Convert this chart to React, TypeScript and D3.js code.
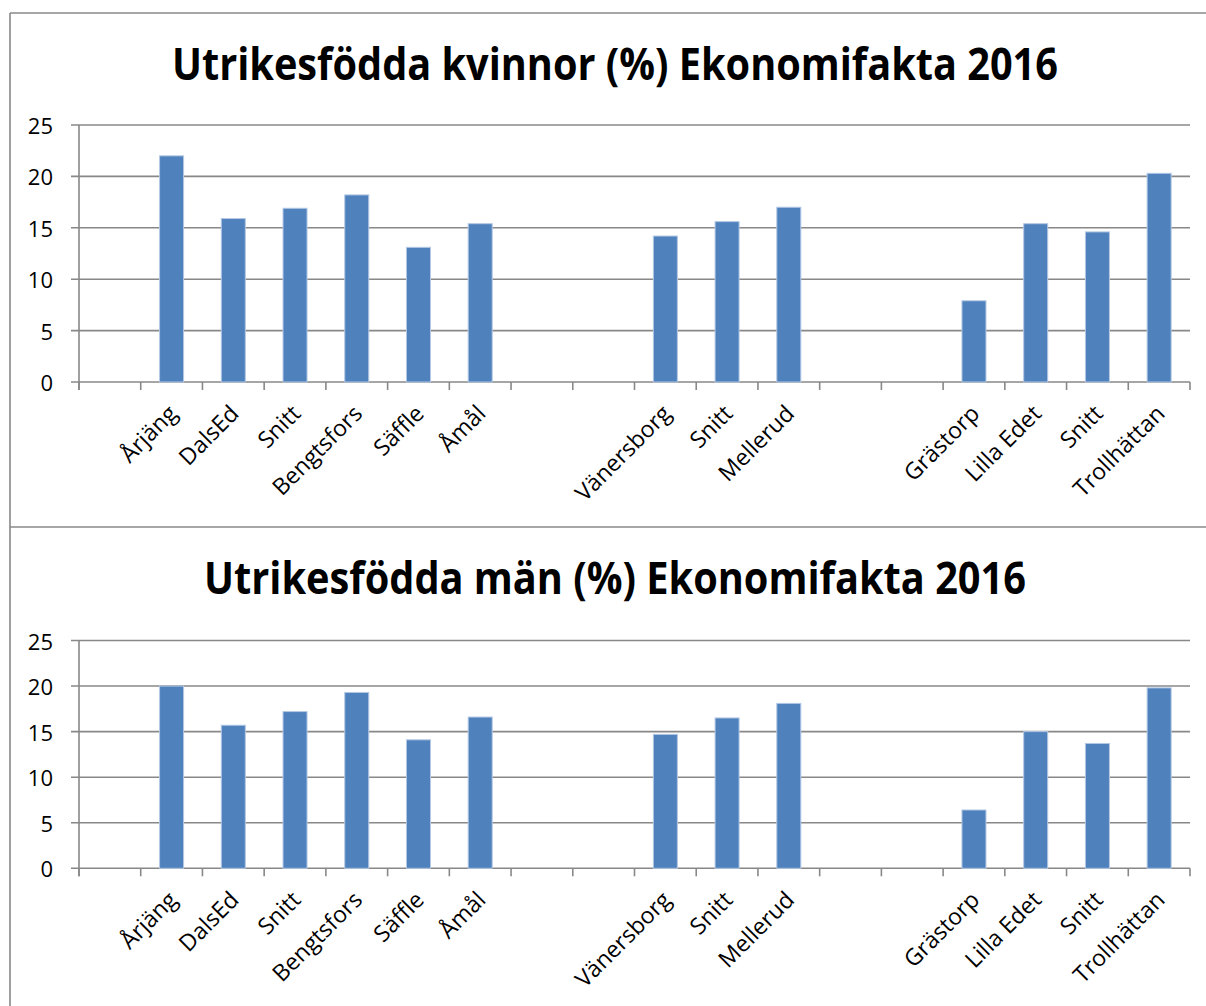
import React from "react";
import * as d3 from "d3";

const categories: string[] = ["", "Årjäng", "DalsEd", "Snitt", "Bengtsfors", "Säffle", "Åmål", "", "", "Vänersborg", "Snitt", "Mellerud", "", "", "Grästorp", "Lilla Edet", "Snitt", "Trollhättan"];
const kvinnor: (number | null)[] = [null, 22.0, 15.9, 16.9, 18.2, 13.1, 15.4, null, null, 14.2, 15.6, 17.0, null, null, 7.9, 15.4, 14.6, 20.3];
const man: (number | null)[] = [null, 20.0, 15.7, 17.2, 19.3, 14.1, 16.6, null, null, 14.7, 16.5, 18.1, null, null, 6.4, 15.0, 13.7, 19.8];
const yTicks: number[] = [0, 5, 10, 15, 20, 25];
const titles: string[] = ["Utrikesfödda kvinnor (%) Ekonomifakta 2016", "Utrikesfödda män (%) Ekonomifakta 2016"];

const W = 1206;
const H = 1006;
const FONT = "'Open Sans', 'DejaVu Sans', sans-serif";
const GRID = "#888888";
const BAR = "#4F81BD";

type PanelProps = {
  values: (number | null)[];
  title: string;
  titleY: number;
  titleLen: number;
  top: number;
  bottom: number;
};

function Panel({ values, title, titleY, titleLen, top, bottom }: PanelProps) {
  const left = 79;
  const right = 1190;
  const x = d3.scaleBand<number>().domain(categories.map((_, i) => i)).range([left, right]).paddingInner(0.611).paddingOuter(0.3055);
  const y = d3.scaleLinear().domain([0, 25]).range([bottom, top]);
  const step = x.step();
  const tickXs = d3.range(categories.length + 1).map((i) => left + i * step);
  return (
    <g>
      <text x={615} y={titleY} textAnchor="middle" fontFamily={FONT} fontWeight="bold" fontSize={45} textLength={titleLen} lengthAdjust="spacingAndGlyphs" fill="#000">{title}</text>
      {yTicks.map((t) => (
        <g key={t}>
          <line x1={left - 8} x2={right} y1={y(t)} y2={y(t)} stroke={GRID} strokeWidth={1.6} />
          <text x={53} y={y(t)} textAnchor="end" dominantBaseline="central" fontFamily={FONT} fontSize={22} fill="#000">{t}</text>
        </g>
      ))}
      <line x1={left} x2={left} y1={top} y2={bottom + 8} stroke={GRID} strokeWidth={1.6} />
      {tickXs.map((tx, i) => (
        <line key={i} x1={tx} x2={tx} y1={bottom} y2={bottom + 8} stroke={GRID} strokeWidth={1.6} />
      ))}
      {values.map((v, i) =>
        v == null ? null : (
          <rect key={i} x={x(i)!} y={y(v)} width={x.bandwidth()} height={y(0) - y(v)} fill={BAR} stroke="#b3c8e4" strokeWidth={1} />
        )
      )}
      {categories.map((c, i) => {
        if (!c) return null;
        const cx = x(i)! + x.bandwidth() / 2;
        return (
          <text key={i} transform={`translate(${cx + 7},${bottom + 33}) rotate(-45)`} textAnchor="end" fontFamily={FONT} fontSize={23} fill="#000">{c}</text>
        );
      })}
    </g>
  );
}

export default function App() {
  return (
    <svg width={W} height={H} style={{ position: "absolute", left: 0, top: 0, background: "#fff" }}>
      <rect x={0} y={0} width={W} height={H} fill="#fff" />
      <line x1={10} x2={W} y1={13} y2={13} stroke={GRID} strokeWidth={1.6} />
      <line x1={10} x2={10} y1={13} y2={H} stroke={GRID} strokeWidth={1.6} />
      <line x1={10} x2={W} y1={527} y2={527} stroke={GRID} strokeWidth={1.6} />
      <Panel values={kvinnor} title={titles[0]} titleY={80} titleLen={886} top={125} bottom={382} />
      <Panel values={man} title={titles[1]} titleY={594} titleLen={822} top={640.5} bottom={868.3} />
    </svg>
  );
}
